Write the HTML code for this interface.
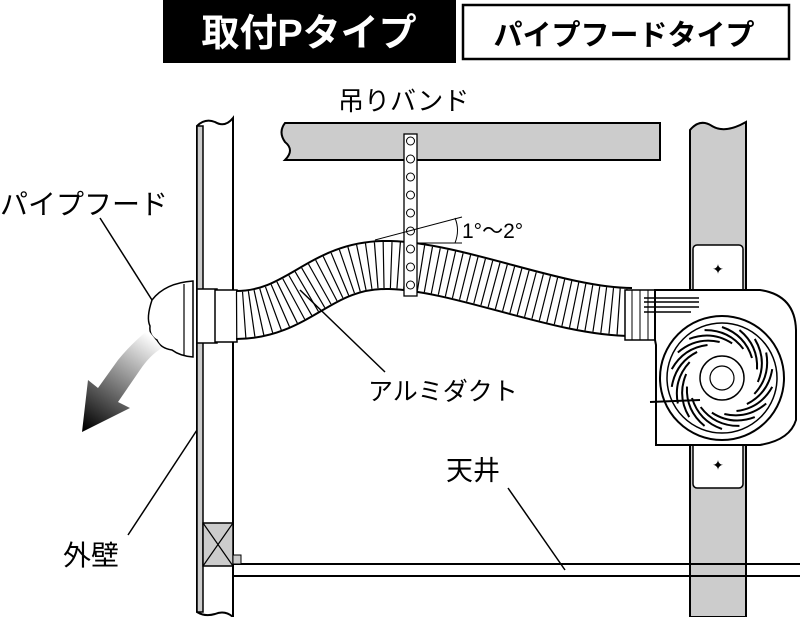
<!DOCTYPE html>
<html><head><meta charset="utf-8"><style>
body{margin:0;background:#fff}
svg{display:block}
text{font-family:"Liberation Sans","Noto Sans CJK JP",sans-serif;fill:#000}
</style></head><body>
<svg width="800" height="617" viewBox="0 0 800 617" xmlns="http://www.w3.org/2000/svg">
<defs>
<linearGradient id="ag" x1="150" y1="335" x2="85" y2="430" gradientUnits="userSpaceOnUse">
<stop offset="0" stop-color="#fff"/><stop offset="1" stop-color="#000"/></linearGradient>
</defs>
<rect x="163" y="0" width="293" height="63" fill="#000"/>
<text x="309" y="46" font-size="38" font-weight="bold" text-anchor="middle" style="fill:#fff">取付Pタイプ</text>
<rect x="463" y="5" width="326" height="54" fill="#fff" stroke="#000" stroke-width="2.5"/>
<text x="624" y="45" font-size="29" font-weight="bold" text-anchor="middle">パイプフードタイプ</text>

<path d="M285,123 L660,123 L660,160 L285,160 Q295,150 285,142 Q278,132 285,123Z" fill="#ccc" stroke="#000" stroke-width="2"/>
<path d="M690,130 Q700,118 712,126 Q725,134 746,122 L746,617 L690,617Z" fill="#ccc" stroke="#000" stroke-width="2"/>
<rect x="693" y="245" width="50" height="48" rx="4" fill="#fff" stroke="#000" stroke-width="1.5"/>
<rect x="693" y="440" width="50" height="48" rx="4" fill="#fff" stroke="#000" stroke-width="1.5"/>
<text x="718" y="274" font-size="14" text-anchor="middle">✦</text>
<text x="718" y="470" font-size="14" text-anchor="middle">✦</text>

<line x1="233" y1="564" x2="800" y2="564" stroke="#000" stroke-width="2"/>
<line x1="233" y1="576" x2="800" y2="576" stroke="#000" stroke-width="2"/>

<path d="M197,126 Q205,118 215,122 Q225,128 233,118 L233,617 Q225,610 215,614 Q205,617 197,612Z" fill="#fff" stroke="#000" stroke-width="2"/>
<rect x="197" y="126" width="6" height="486" fill="#ccc" stroke="#000" stroke-width="1.5"/>
<rect x="203" y="523" width="30" height="43" fill="#ccc" stroke="#000" stroke-width="1.5"/>
<path d="M203,523 L233,566 M233,523 L203,566" stroke="#000" stroke-width="1.2"/>
<rect x="233" y="555" width="8" height="9" fill="#ccc" stroke="#000" stroke-width="1"/>

<path d="M193,281 L193,357 Q180,356 172,350 Q160,348 157,340 Q149,336 150,326 Q146,318 152,300 Q165,283 193,281Z" fill="#fff" stroke="#000" stroke-width="1.5"/>
<line x1="184" y1="284" x2="184" y2="355" stroke="#000" stroke-width="1.2"/>
<rect x="197" y="289" width="20" height="54" fill="#fff" stroke="#000" stroke-width="1.5"/>
<rect x="215" y="290" width="22" height="52" fill="#fff" stroke="#000" stroke-width="1.5"/>

<path d="M148,330 Q130,345 118,360 L98,388 L88,380 L82,432 L130,408 L118,402 L140,370 Q150,355 162,348 Z" fill="url(#ag)"/>

<path d="M236,315 C300,315 320,263 390,265 C460,267 560,312 632,312" fill="none" stroke="#000" stroke-width="50"/>
<path d="M236,315 C300,315 320,263 390,265 C460,267 560,312 632,312" fill="none" stroke="#fff" stroke-width="46"/>
<path d="M236,315 C300,315 320,263 390,265 C460,267 560,312 632,312" fill="none" stroke="#000" stroke-width="46" stroke-dasharray="1.2 6.3"/>

<rect x="404" y="134" width="13" height="162" fill="#fff" stroke="#000" stroke-width="1.3"/>
<g fill="none" stroke="#000" stroke-width="1">
<circle cx="410.5" cy="141" r="4"/><circle cx="410.5" cy="159" r="4"/><circle cx="410.5" cy="177" r="4"/><circle cx="410.5" cy="195" r="4"/><circle cx="410.5" cy="213" r="4"/><circle cx="410.5" cy="231" r="4"/><circle cx="410.5" cy="249" r="4"/><circle cx="410.5" cy="267" r="4"/><circle cx="410.5" cy="285" r="4"/>
</g>
<path d="M375,240 L462,217 M417,243 L462,243" stroke="#000" stroke-width="1" fill="none"/>
<path d="M455,218 Q460,230 455,243" stroke="#000" stroke-width="1" fill="none"/>
<text x="462" y="238" font-size="21">1°～2°</text>

<rect x="625" y="290" width="30" height="50" fill="#fff" stroke="#000" stroke-width="1.5"/>
<path d="M632,290v50M640,290v50M648,290v50" stroke="#000"/>
<path d="M655,290 L760,290 Q795,295 796,330 L796,420 Q790,440 760,445 L656,445 L656,345 L655,340Z" fill="#fff" stroke="#000" stroke-width="2"/>
<path d="M644,298 h55 M644,302 h55 M644,307 h55 M644,312 h47" stroke="#000" stroke-width="1.5"/>
<circle cx="722" cy="378" r="62" fill="#fff" stroke="#000" stroke-width="2"/>
<circle cx="722" cy="378" r="55" fill="none" stroke="#000" stroke-width="1.5"/>
<g stroke="#000" stroke-width="2" fill="none">
<path id="bl" d="M722,327 Q745,335 752,358"/>
<use href="#bl" transform="rotate(20 722 378)"/><use href="#bl" transform="rotate(40 722 378)"/><use href="#bl" transform="rotate(60 722 378)"/><use href="#bl" transform="rotate(80 722 378)"/><use href="#bl" transform="rotate(100 722 378)"/><use href="#bl" transform="rotate(120 722 378)"/><use href="#bl" transform="rotate(140 722 378)"/><use href="#bl" transform="rotate(160 722 378)"/><use href="#bl" transform="rotate(180 722 378)"/><use href="#bl" transform="rotate(200 722 378)"/><use href="#bl" transform="rotate(220 722 378)"/><use href="#bl" transform="rotate(240 722 378)"/><use href="#bl" transform="rotate(260 722 378)"/><use href="#bl" transform="rotate(280 722 378)"/><use href="#bl" transform="rotate(300 722 378)"/><use href="#bl" transform="rotate(320 722 378)"/><use href="#bl" transform="rotate(340 722 378)"/>
</g>
<circle cx="722" cy="378" r="22" fill="#fff" stroke="#000" stroke-width="1.5"/>
<circle cx="722" cy="378" r="12" fill="none" stroke="#000" stroke-width="1.2"/>
<path d="M650,402 L700,400" stroke="#000" stroke-width="2"/>

<text x="338" y="110" font-size="26">吊りバンド</text>
<text x="0" y="214" font-size="28">パイプフード</text>
<text x="368" y="400" font-size="25">アルミダクト</text>
<text x="446" y="480" font-size="27">天井</text>
<text x="63" y="565" font-size="28">外壁</text>
<g stroke="#000" stroke-width="1.5">
<line x1="100" y1="218" x2="152" y2="300"/>
<line x1="300" y1="290" x2="385" y2="372"/>
<line x1="508" y1="488" x2="565" y2="570"/>
<line x1="128" y1="535" x2="197" y2="430"/>
</g>
</svg>
</body></html>
